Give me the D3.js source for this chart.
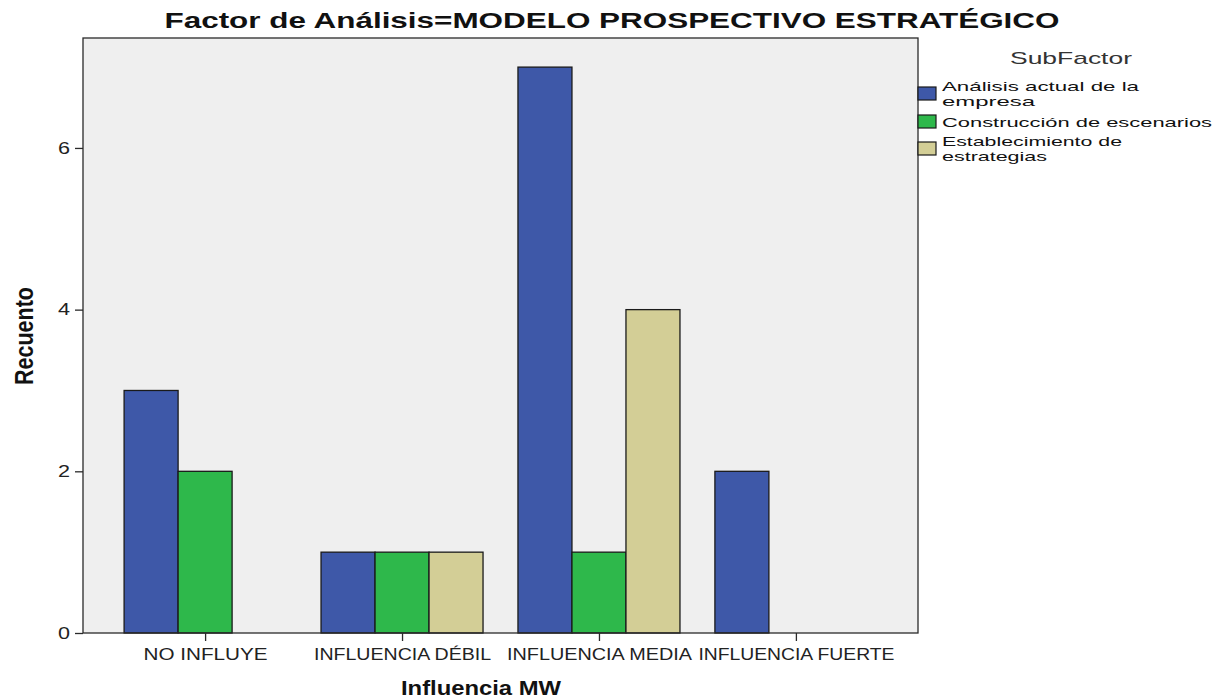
<!DOCTYPE html>
<html>
<head>
<meta charset="utf-8">
<script src="https://cdn.jsdelivr.net/npm/d3@7"></script>
<style>
  body { margin: 0; background: #ffffff; }
  svg { display: block; font-family: "Liberation Sans", Arial, sans-serif; }
</style>
</head>
<body>
<svg id="chart" width="1231" height="700"></svg>
<script>
const categories = ["NO INFLUYE", "INFLUENCIA DÉBIL", "INFLUENCIA MEDIA", "INFLUENCIA FUERTE"];
const subFactors = ["Análisis actual de la empresa", "Construcción de escenarios", "Establecimiento de estrategias"];
const legendLines = [["Análisis actual de la", "empresa"], ["Construcción de escenarios"], ["Establecimiento de", "estrategias"]];
const analisisValues = [3, 1, 7, 2];
const construccionValues = [2, 1, 1, 0];
const establecimientoValues = [0, 1, 4, 0];
const yTicks = [0, 2, 4, 6];
const colors = ["#3e58a8", "#2eb84b", "#d3ce96"];

const seriesValues = [analisisValues, construccionValues, establecimientoValues];
const table = [];
categories.forEach((c, i) => subFactors.forEach((s, j) => {
  if (seriesValues[j][i] > 0) table.push({ cat: c, sub: s, idx: j, value: seriesValues[j][i] });
}));

const svg = d3.select("#chart");
const plot = { left: 83, right: 918, top: 38, bottom: 633 };

const x = d3.scalePoint().domain(categories).range([plot.left, plot.right]).padding(0.62);
const groupW = 162;
const xSub = d3.scaleBand().domain(subFactors).range([-groupW / 2, groupW / 2]);
const y = d3.scaleLinear().domain([0, 7.36]).range([plot.bottom, plot.top]);

// background
svg.append("rect")
  .attr("x", plot.left).attr("y", plot.top)
  .attr("width", plot.right - plot.left).attr("height", plot.bottom - plot.top)
  .attr("fill", "#efefef");

// bars
svg.append("g").selectAll("rect").data(table).join("rect")
  .attr("x", d => x(d.cat) + xSub(d.sub))
  .attr("y", d => y(d.value))
  .attr("width", xSub.bandwidth())
  .attr("height", d => y(0) - y(d.value))
  .attr("fill", d => colors[d.idx])
  .attr("stroke", "#1a1a1a")
  .attr("stroke-width", 1.3);

// frame
svg.append("rect")
  .attr("x", plot.left).attr("y", plot.top)
  .attr("width", plot.right - plot.left).attr("height", plot.bottom - plot.top)
  .attr("fill", "none").attr("stroke", "#2a2a2a").attr("stroke-width", 1.3);

// y axis
const yAxis = svg.append("g").attr("transform", `translate(${plot.left},0)`)
  .call(d3.axisLeft(y).tickValues(yTicks).tickSize(8).tickPadding(5).tickFormat(d3.format("d")));
yAxis.select(".domain").remove();
yAxis.selectAll(".tick line").attr("stroke", "#2a2a2a").attr("stroke-width", 1.3);
yAxis.selectAll(".tick text").attr("font-size", 16).attr("fill", "#222")
  .attr("font-family", "'Liberation Sans', Arial, sans-serif")
  .attr("textLength", 12).attr("lengthAdjust", "spacingAndGlyphs");

// x axis
const xAxis = svg.append("g").attr("transform", `translate(0,${plot.bottom})`)
  .call(d3.axisBottom(x).tickSize(8).tickPadding(8));
xAxis.select(".domain").remove();
xAxis.selectAll(".tick line").attr("stroke", "#2a2a2a").attr("stroke-width", 1.3);
xAxis.selectAll(".tick text").attr("font-size", 16).attr("fill", "#222")
  .attr("font-family", "'Liberation Sans', Arial, sans-serif")
  .attr("textLength", d => ({ "NO INFLUYE": 124, "INFLUENCIA DÉBIL": 177, "INFLUENCIA MEDIA": 185, "INFLUENCIA FUERTE": 196 }[d]))
  .attr("lengthAdjust", "spacingAndGlyphs");

// title
svg.append("text")
  .attr("x", 612).attr("y", 28)
  .attr("text-anchor", "middle")
  .attr("font-size", 22).attr("font-weight", "bold").attr("fill", "#111")
  .attr("textLength", 895).attr("lengthAdjust", "spacingAndGlyphs")
  .text("Factor de Análisis=MODELO PROSPECTIVO ESTRATÉGICO");

// axis titles
svg.append("text")
  .attr("x", 481).attr("y", 695)
  .attr("text-anchor", "middle")
  .attr("font-size", 21).attr("font-weight", "bold").attr("fill", "#111")
  .attr("textLength", 160).attr("lengthAdjust", "spacingAndGlyphs")
  .text("Influencia MW");

svg.append("text")
  .attr("transform", "translate(33,336) rotate(-90) scale(1,1.3)")
  .attr("text-anchor", "middle")
  .attr("font-size", 20).attr("font-weight", "bold").attr("fill", "#111")
  .attr("textLength", 98).attr("lengthAdjust", "spacingAndGlyphs")
  .text("Recuento");

// legend
svg.append("text")
  .attr("x", 1071).attr("y", 64)
  .attr("text-anchor", "middle")
  .attr("font-size", 17).attr("fill", "#333")
  .attr("textLength", 122).attr("lengthAdjust", "spacingAndGlyphs")
  .text("SubFactor");

const legendY = [87, 115, 142];
const legendText = [[91, 106], [127], [146, 161]];
const legendLen = [[197, 93], [270], [180, 105]];
const lg = svg.append("g");
subFactors.forEach((s, i) => {
  lg.append("rect")
    .attr("x", 918).attr("y", legendY[i])
    .attr("width", 18).attr("height", 13)
    .attr("fill", colors[i]).attr("stroke", "#1a1a1a").attr("stroke-width", 1.2);
  legendLines[i].forEach((line, k) => {
    lg.append("text")
      .attr("x", 942).attr("y", legendText[i][k])
      .attr("font-size", 13.5).attr("fill", "#111")
      .attr("textLength", legendLen[i][k]).attr("lengthAdjust", "spacingAndGlyphs")
      .text(line);
  });
});
</script>
</body>
</html>
